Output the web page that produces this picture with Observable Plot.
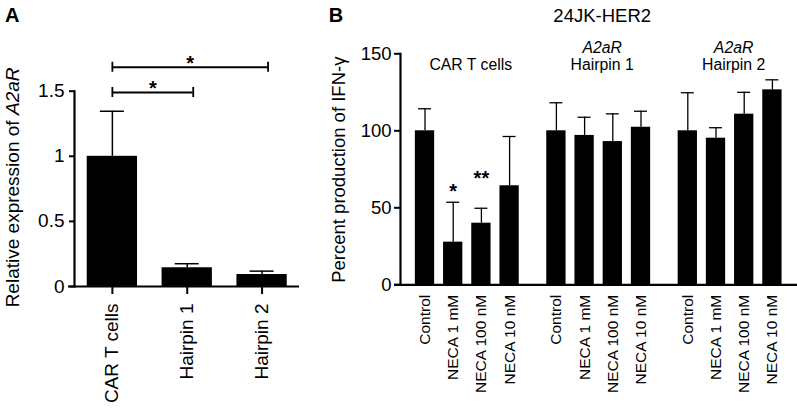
<!DOCTYPE html>
<html><head><meta charset="utf-8">
<script src="https://cdn.jsdelivr.net/npm/d3@7"></script>
<script src="https://cdn.jsdelivr.net/npm/@observablehq/plot@0.6"></script>
<style>
body{margin:0;background:#fff;}
#wrap{position:relative;width:797px;height:411px;overflow:hidden;font-family:"Liberation Sans",Arial,Helvetica,sans-serif;}
#wrap svg{position:absolute;top:0;overflow:visible;}
</style></head><body><div id="wrap"></div>
<script>
// ---------- Panel A data ----------
const catsA = ["CAR T cells", "Hairpin 1", "Hairpin 2"];
const valsA = [1.0, 0.144, 0.092];
const errA = [0.346, 0.031, 0.026];
const sigPairsA = [["CAR T cells", "Hairpin 1"], ["CAR T cells", "Hairpin 2"]];
const sigLabelsA = ["*", "*"];
const yTicksA = [0, 0.5, 1, 1.5];
const yLabelA = "Relative expression of ";
const yLabelGeneA = "A2aR";

// ---------- Panel B data ----------
const titleB = "24JK-HER2";
const groupsB = ["CAR T cells", "Hairpin 1", "Hairpin 2"];
const groupGeneB = ["", "A2aR", "A2aR"];
const treatmentsB = ["Control", "NECA 1 mM", "NECA 100 nM", "NECA 10 nM"];
const valsCAR = [100, 27.7, 40, 64.3];
const errCAR = [14.3, 25.9, 9.7, 32];
const sigCAR = ["", "*", "**", ""];
const valsH1 = [100, 97, 93, 102.3];
const errH1 = [18.2, 11.8, 18, 10.4];
const valsH2 = [100, 95.2, 110.8, 126.6];
const errH2 = [24.7, 6.8, 14.2, 6.5];
const yTicksB = [0, 50, 100, 150];
const yLabelB = "Percent production of IFN-γ";

const FONT = '"Liberation Sans", Arial, Helvetica, sans-serif';
const wrap = document.getElementById("wrap");
const centered = {textAnchor: "middle", lineAnchor: "middle"};

// ---------- Panel A ----------
const A = catsA.map((c, i) => ({cat: c, i, value: valsA[i], err: errA[i]}));
const brA = sigPairsA.map((p, k) => ({a: catsA.indexOf(p[0]), b: catsA.indexOf(p[1]), level: k, label: sigLabelsA[k]}));
const brY = d => 1.49 + d.level * 0.194;
const halfA = 0.336;

const plotA = Plot.plot({
  width: 300, height: 411,
  marginLeft: 74, marginRight: 1, marginTop: 90.7, marginBottom: 125,
  style: {fontFamily: FONT, fontSize: "19px", color: "black", background: "transparent"},
  x: {type: "linear", domain: [-0.506, 2.5]},
  y: {domain: [0, 1.5]},
  marks: [
    Plot.rectY(A, {x1: d => d.i - halfA, x2: d => d.i + halfA, y: "value", fill: "black"}),
    Plot.ruleX(A, {x: "i", y1: "value", y2: d => d.value + d.err, stroke: "black", strokeWidth: 1.5}),
    Plot.ruleY(A, {y: d => d.value + d.err, x1: d => d.i, x2: d => d.i, insetLeft: -12, insetRight: -12, stroke: "black", strokeWidth: 1.5}),
    Plot.frame({anchor: "left", stroke: "black", strokeWidth: 2.2}),
    Plot.ruleY([0], {stroke: "black", strokeWidth: 2.2, insetLeft: -6}),
    Plot.axisY(yTicksA, {tickFormat: d => String(d), tickSize: 5, tickPadding: 5, fontSize: 19, stroke: "black", strokeWidth: 2, label: null}),
    Plot.axisX([0, 1, 2], {tickFormat: i => catsA[i], tickRotate: -90, tickSize: 8, tickPadding: 9, fontSize: 19, stroke: "black", strokeWidth: 2, label: null}),
    // significance brackets
    Plot.ruleY(brA, {y: brY, x1: "a", x2: "b", insetRight: -6, stroke: "black", strokeWidth: 1.8}),
    Plot.ruleX(brA, {x: "a", y1: brY, y2: brY, insetTop: -5, insetBottom: -5, stroke: "black", strokeWidth: 1.8}),
    Plot.ruleX(brA, {x: "b", y1: brY, y2: brY, insetTop: -5, insetBottom: -5, dx: 6, stroke: "black", strokeWidth: 1.8}),
    Plot.text(brA, {x: d => (d.a + d.b) / 2, y: brY, text: "label", dx: 3, dy: -4, fontSize: 20, fontWeight: "bold", ...centered}),
    // y label
    Plot.text([yLabelA], {text: d => d, frameAnchor: "left", rotate: -90, textAnchor: "start", lineAnchor: "middle", dx: -61.5, dy: 118.5, fontSize: 19}),
    Plot.text([yLabelGeneA], {text: d => d, frameAnchor: "left", rotate: -90, textAnchor: "end", lineAnchor: "middle", dx: -61.5, dy: -121.4, fontSize: 19, fontStyle: "italic"}),
    // panel letter
    Plot.text(["A"], {text: d => d, frameAnchor: "top-left", dx: -62.3, dy: -75.4, fontSize: 20, fontWeight: "bold", ...centered})
  ]
});
plotA.style.left = "0px";
wrap.appendChild(plotA);

// ---------- Panel B ----------
const slotsPerGroup = 4.66;
const halfB = 0.342;
const capB = 0.23;
const seriesB = [valsCAR, valsH1, valsH2];
const errsB = [errCAR, errH1, errH2];
const B = [];
groupsB.forEach((g, gi) => treatmentsB.forEach((t, ti) => {
  B.push({group: g, treatment: t, pos: gi * slotsPerGroup + ti, value: seriesB[gi][ti], err: errsB[gi][ti], sig: gi === 0 ? sigCAR[ti] : ""});
}));
const G = groupsB.map((g, gi) => ({group: g, gene: groupGeneB[gi], pos: gi * slotsPerGroup + (treatmentsB.length - 1) / 2}));
const tickLabelB = new Map(B.map(d => [d.pos, d.treatment]));

const plotB = Plot.plot({
  width: 497, height: 411,
  marginLeft: 100, marginRight: 0, marginTop: 53.3, marginBottom: 126.7,
  style: {fontFamily: FONT, fontSize: "16px", color: "black", background: "transparent"},
  x: {type: "linear", domain: [-0.869, 13.21]},
  y: {domain: [0, 150]},
  marks: [
    Plot.rectY(B, {x1: d => d.pos - halfB, x2: d => d.pos + halfB, y: "value", fill: "black"}),
    Plot.ruleX(B, {x: "pos", y1: "value", y2: d => d.value + d.err, stroke: "black", strokeWidth: 1.3}),
    Plot.ruleY(B, {y: d => d.value + d.err, x1: d => d.pos - capB, x2: d => d.pos + capB, stroke: "black", strokeWidth: 1.3}),
    Plot.frame({anchor: "left", stroke: "black", strokeWidth: 2.2}),
    Plot.ruleY([0], {stroke: "black", strokeWidth: 2.2, insetLeft: -6}),
    Plot.axisY(yTicksB, {tickFormat: d => String(d), tickSize: 6, tickPadding: 3, fontSize: 18.5, stroke: "black", strokeWidth: 2, label: null}),
    Plot.axisX(B.map(d => d.pos), {tickFormat: p => tickLabelB.get(p), tickRotate: -90, tickSize: 0, tickPadding: 10, fontSize: 15.5, label: null}),
    Plot.text(B.filter(d => d.sig === "*"), {x: "pos", y: d => d.value + d.err, text: "sig", dy: -10.5, fontSize: 20, fontWeight: "bold", ...centered}),
    Plot.text(B.filter(d => d.sig === "**"), {x: "pos", y: d => d.value + d.err, text: "sig", dy: -29.2, fontSize: 20, fontWeight: "bold", ...centered}),
    Plot.text(G, {x: "pos", text: "group", frameAnchor: "top", dx: 3.5, dy: 11.3, fontSize: 15.8, ...centered}),
    Plot.text(G, {x: "pos", text: "gene", frameAnchor: "top", dx: 3.5, dy: -6, fontSize: 15.8, fontStyle: "italic", ...centered}),
    Plot.text([titleB], {text: d => d, frameAnchor: "top", dx: 3.2, dy: -37.6, fontSize: 18.5, ...centered}),
    Plot.text([yLabelB], {text: d => d, frameAnchor: "left", rotate: -90, dx: -61, dy: 0.4, fontSize: 18.5, ...centered}),
    Plot.text(["B"], {text: d => d, frameAnchor: "top-left", dx: -64.5, dy: -38, fontSize: 20, fontWeight: "bold", ...centered})
  ]
});
plotB.style.left = "300px";
wrap.appendChild(plotB);
</script>
</body></html>
